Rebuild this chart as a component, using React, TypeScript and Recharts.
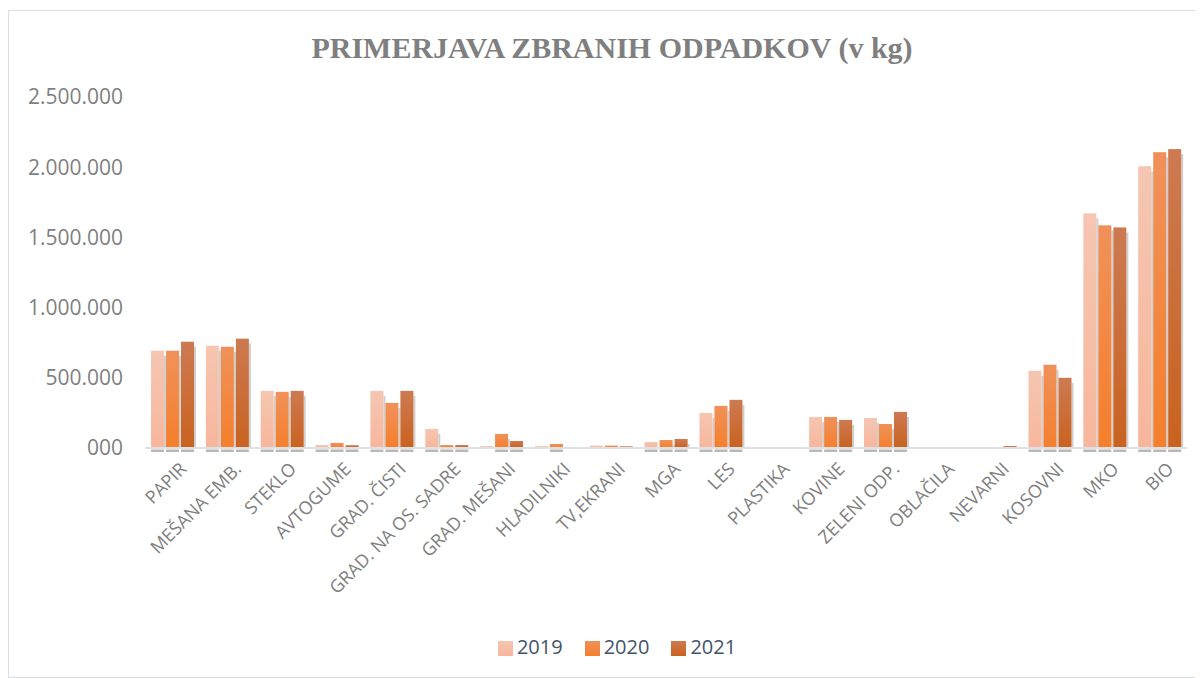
import React from 'react';
import { BarChart, Bar, XAxis, YAxis, Legend } from 'recharts';

const categories = [
  'PAPIR', 'MEŠANA EMB.', 'STEKLO', 'AVTOGUME', 'GRAD. ČISTI', 'GRAD. NA OS. SADRE',
  'GRAD. MEŠANI', 'HLADILNIKI', 'TV,EKRANI', 'MGA', 'LES', 'PLASTIKA', 'KOVINE',
  'ZELENI ODP.', 'OBLAČILA', 'NEVARNI', 'KOSOVNI', 'MKO', 'BIO',
];
const values2019 = [693000, 729000, 407000, 21000, 407000, 136000, 14000, 14000, 17000, 43000, 250000, 0, 221000, 214000, 0, 4000, 550000, 1671000, 2007000];
const values2020 = [693000, 721000, 400000, 36000, 321000, 21000, 100000, 29000, 17000, 57000, 300000, 0, 221000, 171000, 0, 4000, 593000, 1586000, 2107000];
const values2021 = [757000, 779000, 407000, 20000, 407000, 21000, 50000, 0, 12000, 64000, 343000, 0, 200000, 257000, 0, 14000, 500000, 1571000, 2129000];
const yTicks = [0, 500000, 1000000, 1500000, 2000000, 2500000];

const data = categories.map((name, i) => ({
  name,
  y2019: values2019[i],
  y2020: values2020[i],
  y2021: values2021[i],
}));

const fmt = (v: number) => (v === 0 ? '000' : v.toLocaleString('de-DE'));

const SANS = '"Open Sans", "Noto Sans", sans-serif';

const XTick = (props: any) => {
  const { x, y, payload } = props;
  return (
    <g transform={`translate(${x + 6},${y + 5})`}>
      <text
        x={0}
        y={0}
        dy={13}
        textAnchor="end"
        transform="rotate(-45)"
        fill="#7f7f7f"
        fontSize={18}
        fontFamily={SANS}
      >
        {payload.value}
      </text>
    </g>
  );
};

const ShadowBar = (props: any) => {
  const { x, y, width, height, fill, value } = props;
  if (!value) return null;
  return (
    <g>
      {height > 8 && (
        <rect x={x + width} y={y + 5} width={2} height={height - 5} fill="#cfcfcf" />
      )}
      <rect x={x} y={y} width={width} height={height} fill={fill} />
      {height > 2.5 && <rect x={x} y={y + height + 1.5} width={width} height={2.5} fill="#b8b8b8" />}
    </g>
  );
};

export default function App() {
  return (
    <div
      style={{
        position: 'relative',
        width: 1192,
        height: 668,
        marginTop: 2,
        border: '1px solid #d9dde4',
        boxSizing: 'border-box',
        background: '#fff',
      }}
    >
      <div
        style={{
          position: 'absolute',
          top: 20,
          left: 8,
          width: '100%',
          textAlign: 'center',
          fontFamily: '"Liberation Serif", "DejaVu Serif", serif',
          fontWeight: 'bold',
          fontSize: 30,
          color: '#7f7f7f',
        }}
      >
        PRIMERJAVA ZBRANIH ODPADKOV (v kg)
      </div>
      <BarChart
        width={1190}
        height={666}
        data={data}
        margin={{ top: 86, right: 12, bottom: 17, left: 0 }}
        barCategoryGap="11%"
        barGap={2}
      >
        <defs>
          <linearGradient id="g2019" x1="0" y1="0" x2="0" y2="1">
            <stop offset="0%" stopColor="#f5c6b2" />
            <stop offset="100%" stopColor="#f7b69c" />
          </linearGradient>
          <linearGradient id="g2020" x1="0" y1="0" x2="0" y2="1">
            <stop offset="0%" stopColor="#f0915a" />
            <stop offset="100%" stopColor="#f57f2c" />
          </linearGradient>
          <linearGradient id="g2021" x1="0" y1="0" x2="0" y2="1">
            <stop offset="0%" stopColor="#cd7a52" />
            <stop offset="100%" stopColor="#c9621f" />
          </linearGradient>
        </defs>
        <XAxis
          dataKey="name"
          interval={0}
          tick={<XTick />}
          tickLine={false}
          axisLine={{ stroke: '#dde1e8', strokeWidth: 2 }}
          height={185}
        />
        <YAxis
          domain={[0, 2500000]}
          ticks={yTicks}
          tickFormatter={fmt}
          axisLine={false}
          tickLine={false}
          tickSize={0}
          tickMargin={22}
          width={136}
          tick={{ fill: '#7f7f7f', fontSize: 21, fontFamily: SANS }}
        />
        <Legend
          verticalAlign="bottom"
          iconType="square"
          iconSize={15}
          wrapperStyle={{ fontFamily: SANS, fontSize: 20, paddingLeft: 30 }}
          formatter={(v: string) => <span style={{ color: '#44546a', marginRight: 12 }}>{v}</span>}
        />
        <Bar dataKey="y2019" name="2019" fill="url(#g2019)" shape={<ShadowBar />} isAnimationActive={false} legendType="square" />
        <Bar dataKey="y2020" name="2020" fill="url(#g2020)" shape={<ShadowBar />} isAnimationActive={false} legendType="square" />
        <Bar dataKey="y2021" name="2021" fill="url(#g2021)" shape={<ShadowBar />} isAnimationActive={false} legendType="square" />
      </BarChart>
    </div>
  );
}
